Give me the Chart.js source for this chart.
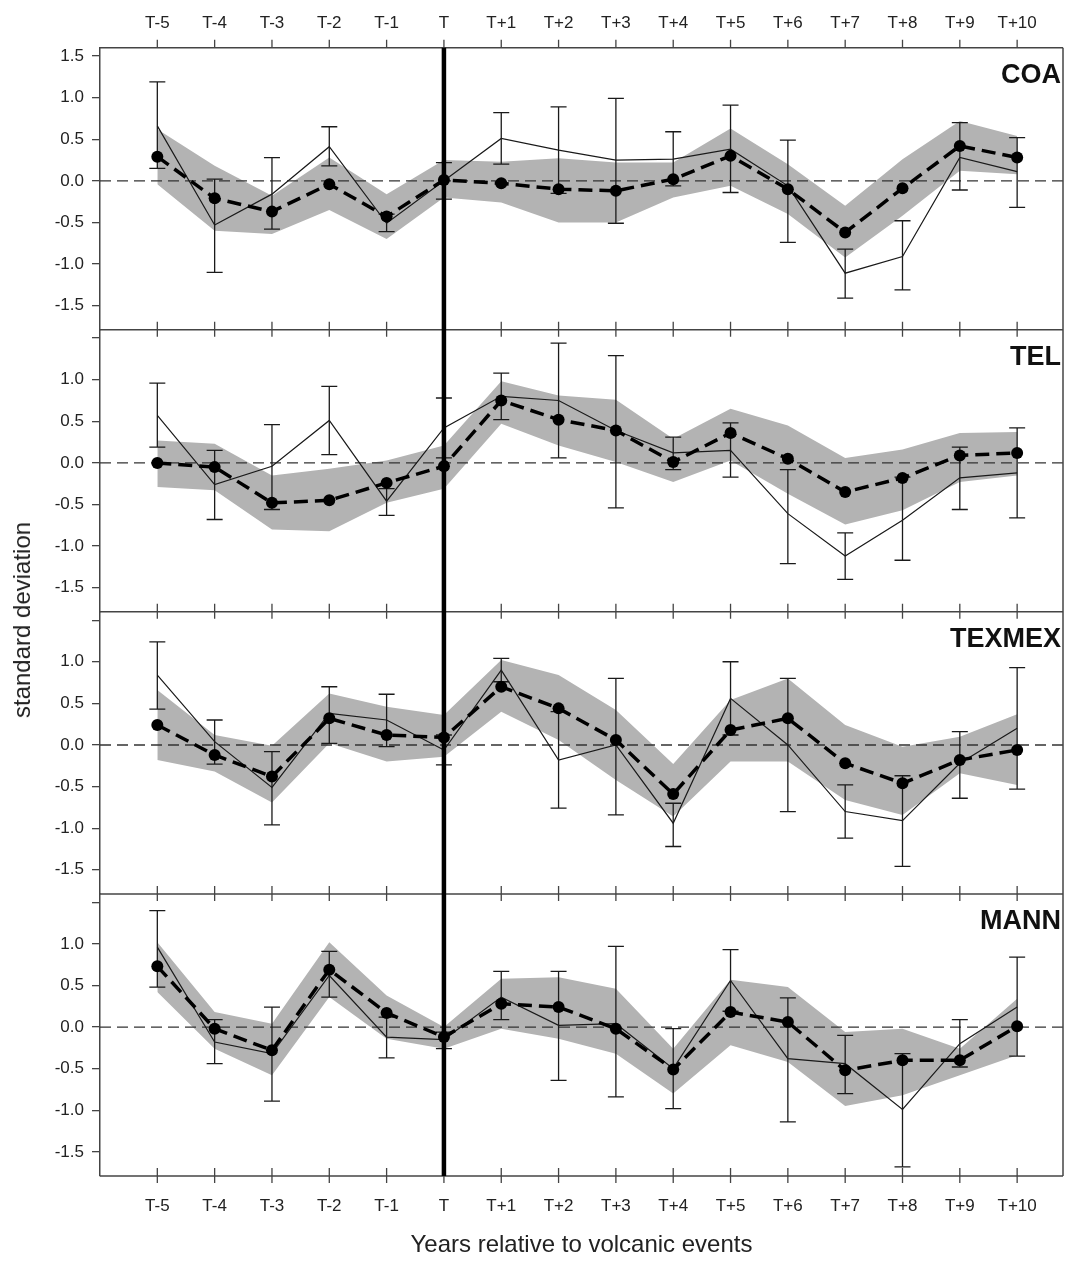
<!DOCTYPE html>
<html>
<head>
<meta charset="utf-8">
<script src="https://cdn.jsdelivr.net/npm/chart.js@4.4.1/dist/chart.umd.min.js"></script>
<style>
  body { margin: 0; background: #fff; }
  #wrap { position: relative; width: 1072px; height: 1262px; font-family: "Liberation Sans", Arial, sans-serif; color: #111; }
  #c { position: absolute; left: 0; top: 0; }
  .pname { position: absolute; right: 11px; font-weight: bold; font-size: 27px; line-height: 27px; }
  #ytitle { position: absolute; left: 22px; top: 620px; font-size: 24px; white-space: nowrap; transform: translate(-50%, -50%) rotate(-90deg); color: #222; }
</style>
</head>
<body>
<div id="wrap">
  <canvas id="c" width="1072" height="1262"></canvas>
  <div id="ytitle">standard deviation</div>
</div>
<script>
const years = ['T-5', 'T-4', 'T-3', 'T-2', 'T-1', 'T', 'T+1', 'T+2', 'T+3', 'T+4', 'T+5', 'T+6', 'T+7', 'T+8', 'T+9', 'T+10'];
const names = ['COA', 'TEL', 'TEXMEX', 'MANN'];

/* ─── COA ─── */
const coaMean   = [0.29, -0.21, -0.37, -0.04, -0.43, 0.01, -0.03, -0.10, -0.12, 0.02, 0.30, -0.10, -0.62, -0.09, 0.42, 0.28];
const coaObs    = [0.66, -0.53, -0.16, 0.41, -0.51, 0.00, 0.51, 0.37, 0.25, 0.26, 0.38, -0.06, -1.11, -0.91, 0.28, 0.11];
const coaErrHi  = [1.19, 0.02, 0.28, 0.65, -0.40, 0.22, 0.82, 0.89, 0.99, 0.59, 0.91, 0.49, -0.82, -0.48, 0.70, 0.52];
const coaErrLo  = [0.15, -1.10, -0.58, 0.18, -0.61, -0.22, 0.20, -0.15, -0.51, -0.06, -0.14, -0.74, -1.41, -1.31, -0.11, -0.32];
const coaBandHi = [0.62, 0.18, -0.18, 0.28, -0.16, 0.25, 0.23, 0.27, 0.22, 0.22, 0.63, 0.20, -0.30, 0.26, 0.72, 0.54];
const coaBandLo = [-0.04, -0.60, -0.64, -0.35, -0.70, -0.20, -0.26, -0.50, -0.50, -0.20, -0.06, -0.40, -0.92, -0.42, 0.12, 0.08];

/* ─── TEL ─── */
const telMean   = [0.00, -0.05, -0.48, -0.45, -0.24, -0.04, 0.75, 0.52, 0.39, 0.01, 0.36, 0.05, -0.35, -0.18, 0.09, 0.12];
const telObs    = [0.57, -0.26, -0.04, 0.51, -0.46, 0.42, 0.80, 0.75, 0.39, 0.12, 0.15, -0.61, -1.12, -0.69, -0.18, -0.12];
const telErrHi  = [0.96, 0.15, 0.46, 0.92, -0.31, 0.78, 1.08, 1.44, 1.29, 0.31, 0.48, -0.08, -0.84, -0.17, 0.19, 0.42];
const telErrLo  = [0.19, -0.68, -0.56, 0.10, -0.63, 0.06, 0.52, 0.06, -0.54, -0.08, -0.17, -1.21, -1.40, -1.17, -0.56, -0.66];
const telBandHi = [0.27, 0.23, -0.15, -0.07, 0.03, 0.21, 0.98, 0.81, 0.76, 0.29, 0.65, 0.45, 0.06, 0.16, 0.36, 0.37];
const telBandLo = [-0.29, -0.33, -0.80, -0.82, -0.48, -0.31, 0.47, 0.21, 0.01, -0.23, 0.03, -0.37, -0.74, -0.57, -0.23, -0.15];

/* ─── TEXMEX ─── */
const texMean   = [0.24, -0.12, -0.38, 0.32, 0.12, 0.09, 0.70, 0.44, 0.06, -0.59, 0.18, 0.32, -0.22, -0.46, -0.18, -0.06];
const texObs    = [0.84, 0.04, -0.51, 0.38, 0.30, -0.06, 0.90, -0.18, 0.00, -0.94, 0.56, 0.00, -0.80, -0.91, -0.22, 0.20];
const texErrHi  = [1.24, 0.30, -0.08, 0.70, 0.61, 0.12, 1.04, 0.40, 0.80, -0.70, 1.00, 0.80, -0.48, -0.37, 0.16, 0.93];
const texErrLo  = [0.43, -0.23, -0.96, 0.02, -0.02, -0.24, 0.76, -0.76, -0.84, -1.22, 0.12, -0.80, -1.12, -1.46, -0.64, -0.53];
const texBandHi = [0.66, 0.12, -0.01, 0.62, 0.46, 0.36, 1.02, 0.84, 0.42, -0.23, 0.54, 0.80, 0.24, -0.02, 0.10, 0.37];
const texBandLo = [-0.18, -0.32, -0.69, 0.02, -0.20, -0.14, 0.40, 0.06, -0.42, -0.86, -0.20, -0.20, -0.66, -0.84, -0.34, -0.48];

/* ─── MANN ─── */
const mannMean   = [0.73, -0.02, -0.28, 0.69, 0.17, -0.12, 0.28, 0.24, -0.02, -0.51, 0.18, 0.06, -0.52, -0.40, -0.40, 0.01];
const mannObs    = [0.96, -0.18, -0.32, 0.62, -0.12, -0.15, 0.36, 0.02, 0.04, -0.50, 0.56, -0.38, -0.44, -0.99, -0.20, 0.24];
const mannErrHi  = [1.40, 0.09, 0.24, 0.91, 0.12, -0.06, 0.67, 0.67, 0.97, -0.02, 0.93, 0.35, -0.10, -0.32, 0.09, 0.84];
const mannErrLo  = [0.48, -0.44, -0.89, 0.36, -0.37, -0.26, 0.09, -0.64, -0.84, -0.98, 0.19, -1.14, -0.80, -1.68, -0.48, -0.35];
const mannBandHi = [1.02, 0.18, 0.04, 1.02, 0.38, 0.00, 0.58, 0.60, 0.46, -0.26, 0.57, 0.48, -0.06, -0.02, -0.26, 0.34];
const mannBandLo = [0.42, -0.26, -0.58, 0.36, -0.14, -0.26, -0.02, -0.14, -0.32, -0.80, -0.22, -0.42, -0.95, -0.82, -0.58, -0.34];

const yMin = -1.79, yMax = 1.6;
const xMin = -1, xMax = 15.8;
const eventYear = 'T';

const panels = [
    { mean: coaMean,  obs: coaObs,  errHi: coaErrHi,  errLo: coaErrLo,  bandHi: coaBandHi,  bandLo: coaBandLo },
    { mean: telMean,  obs: telObs,  errHi: telErrHi,  errLo: telErrLo,  bandHi: telBandHi,  bandLo: telBandLo },
    { mean: texMean,  obs: texObs,  errHi: texErrHi,  errLo: texErrLo,  bandHi: texBandHi,  bandLo: texBandLo },
    { mean: mannMean, obs: mannObs, errHi: mannErrHi, errLo: mannErrLo, bandHi: mannBandHi, bandLo: mannBandLo }
];

const ink = '#1a1a1a';
const axisCol = '#444';
const band = '#b3b3b3';
const font = { family: '"Liberation Sans", Arial, sans-serif', size: 17 };

const pts = arr => arr.map((v, i) => ({ x: i, y: v }));

/* ─── Datasets ─── */
const datasets = [];
panels.forEach((p, k) => {
    const yid = 'y' + k;
    datasets.push({ role: 'bandHi', panel: k, yAxisID: yid, data: pts(p.bandHi), borderColor: 'transparent', borderWidth: 0, pointRadius: 0, fill: false, order: 5 });
    datasets.push({ role: 'bandLo', panel: k, yAxisID: yid, data: pts(p.bandLo), borderColor: 'transparent', borderWidth: 0, pointRadius: 0, fill: '-1', backgroundColor: band, order: 4 });
    datasets.push({ role: 'obs', panel: k, yAxisID: yid, data: pts(p.obs), borderColor: ink, borderWidth: 1.2, pointRadius: 0, fill: false, order: 2 });
    datasets.push({ role: 'mean', panel: k, yAxisID: yid, data: pts(p.mean), borderColor: '#000', borderWidth: 3.5, borderDash: [14, 7],
        pointRadius: 6, pointBackgroundColor: '#000', pointBorderWidth: 0, fill: false, order: 1 });
});

/* ─── Scales: stacked y axes, last defined goes on top ─── */
const yearTicks = s => { s.ticks = years.map((_, i) => ({ value: i })); };
const scales = {
    x: {
        type: 'linear', position: 'bottom', min: xMin, max: xMax,
        afterFit: s => { s.height = 86; },
        afterBuildTicks: yearTicks,
        ticks: { callback: v => years[v], font, color: '#222', padding: 20, maxRotation: 0, autoSkip: false },
        grid: { display: false, drawTicks: false },
        border: { display: false },
        title: { display: true, text: 'Years relative to volcanic events', font: { family: font.family, size: 24 }, color: '#222', padding: { top: 0, bottom: 2 } }
    },
    xTop: {
        type: 'linear', position: 'top', min: xMin, max: xMax,
        afterFit: s => { s.height = 47.7; },
        afterBuildTicks: yearTicks,
        ticks: { callback: v => years[v], font, color: '#222', padding: 14.5, maxRotation: 0, autoSkip: false },
        grid: { display: false, drawTicks: false },
        border: { display: false }
    }
};
for (let k = panels.length - 1; k >= 0; k--) {
    scales['y' + k] = {
        type: 'linear', position: 'left', stack: 'panels', stackWeight: 1,
        min: yMin, max: yMax,
        afterFit: s => { s.width = 100; },
        ticks: {
            stepSize: 0.5, includeBounds: false, font, color: '#222', padding: 8,
            callback: v => (k > 0 && Math.abs(v - 1.5) < 1e-6) ? '' : v.toFixed(1)
        },
        grid: { display: true, drawOnChartArea: false, drawTicks: true, tickLength: 8, color: axisCol, lineWidth: 1.3 },
        border: { display: true, color: axisCol, width: 1.5 }
    };
}

/* ─── Plugin: zero lines, error bars, frame and event line ─── */
const decor = {
    id: 'decor',
    afterDatasetDraw(chart, args) {
        const ds = chart.data.datasets[args.index];
        if (ds.role !== 'bandLo') return;
        const ctx = chart.ctx, x = chart.scales.x, y = chart.scales[ds.yAxisID];
        const p = panels[ds.panel];
        ctx.save();
        const y0 = y.getPixelForValue(0);
        ctx.strokeStyle = '#333';
        ctx.lineWidth = 1.3;
        ctx.setLineDash([11, 6]);
        ctx.beginPath();
        ctx.moveTo(chart.chartArea.left, y0);
        ctx.lineTo(chart.chartArea.right, y0);
        ctx.stroke();

        ctx.setLineDash([]);
        ctx.strokeStyle = ink;
        ctx.lineWidth = 1.3;
        p.errHi.forEach((hi, i) => {
            const px = x.getPixelForValue(i);
            const t = y.getPixelForValue(hi), b = y.getPixelForValue(p.errLo[i]);
            ctx.beginPath();
            ctx.moveTo(px, t); ctx.lineTo(px, b);
            ctx.moveTo(px - 8, t); ctx.lineTo(px + 8, t);
            ctx.moveTo(px - 8, b); ctx.lineTo(px + 8, b);
            ctx.stroke();
        });
        ctx.restore();
    },
    afterDatasetsDraw(chart) {
        const ctx = chart.ctx, a = chart.chartArea, x = chart.scales.x;
        ctx.save();
        ctx.strokeStyle = axisCol;
        ctx.lineWidth = 1.5;
        // right border
        ctx.beginPath();
        ctx.moveTo(a.right, a.top); ctx.lineTo(a.right, a.bottom);
        ctx.stroke();
        // horizontal panel edges with year ticks
        const edges = panels.map((_, k) => chart.scales['y' + k].top).concat([a.bottom]);
        edges.forEach((ey, j) => {
            ctx.lineWidth = 1.5;
            ctx.beginPath();
            ctx.moveTo(a.left, ey); ctx.lineTo(a.right, ey);
            ctx.stroke();
            ctx.lineWidth = 1.3;
            ctx.beginPath();
            years.forEach((_, i) => {
                const px = x.getPixelForValue(i);
                ctx.moveTo(px, ey - 8);
                ctx.lineTo(px, j === 0 ? ey : ey + 7);
            });
            ctx.stroke();
        });
        // event year line
        const ex = x.getPixelForValue(years.indexOf(eventYear));
        ctx.strokeStyle = '#000';
        ctx.lineWidth = 4.5;
        ctx.beginPath();
        ctx.moveTo(ex, a.top); ctx.lineTo(ex, a.bottom);
        ctx.stroke();
        ctx.restore();
    }
};

const chart = new Chart(document.getElementById('c'), {
    type: 'line',
    data: { datasets },
    options: {
        responsive: false,
        animation: false,
        layout: { padding: { left: 0, right: 9, top: 0, bottom: 0 } },
        plugins: { legend: { display: false }, tooltip: { enabled: false } },
        scales
    },
    plugins: [decor]
});

/* ─── Panel names ─── */
const wrap = document.getElementById('wrap');
names.forEach((n, k) => {
    const d = document.createElement('div');
    d.className = 'pname';
    d.textContent = n;
    d.style.top = (chart.scales['y' + k].top + 13) + 'px';
    wrap.appendChild(d);
});
</script>
</body>
</html>
